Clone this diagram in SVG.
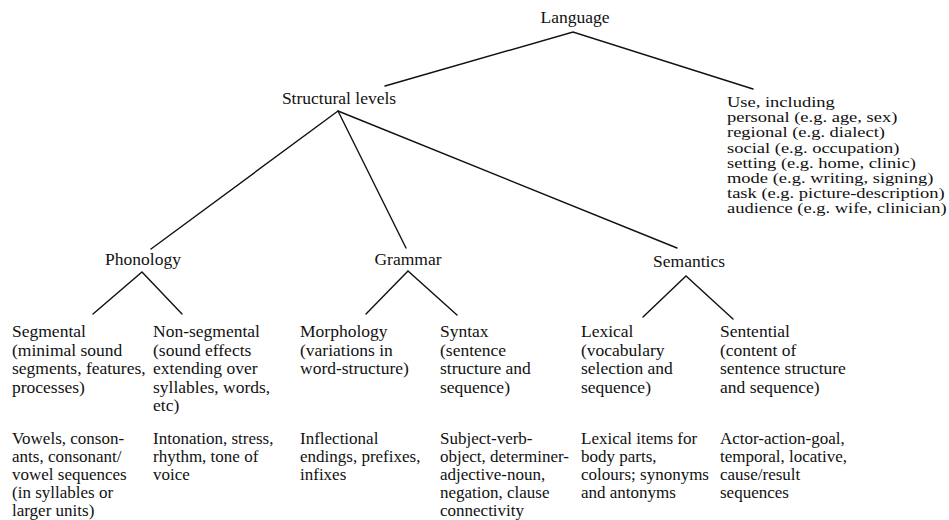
<svg xmlns="http://www.w3.org/2000/svg" width="949" height="520" viewBox="0 0 949 520">
<style>
text{font-family:"Liberation Serif","Times New Roman",serif;font-size:17.5px;fill:#111}
.use text{font-size:13.6px}
.ex text{font-size:17px}
.edge{stroke:#111;stroke-width:1.4;fill:none;stroke-linecap:round}
</style>
<rect width="949" height="520" fill="#fff"/>
<g id="connectors">
<path class="edge" d="M385,86 L573,32 L753,89"/>
<path class="edge" d="M151,249 L338,111 L406,248"/>
<path class="edge" d="M338,111 L677,248"/>
<path class="edge" d="M93,314 L142,272 L182,314"/>
<path class="edge" d="M366,314 L408,271 L457,315"/>
<path class="edge" d="M643,317 L686,276 L733,319"/>
</g>
<g id="language"><text x="575" y="23" text-anchor="middle">Language</text></g>
<g id="structural"><text x="339" y="104" text-anchor="middle">Structural levels</text></g>
<g id="use" class="use" transform="translate(727,0) scale(1.36,1)">
<text x="0" y="107">Use, including</text>
<text x="0" y="122.2">personal (e.g. age, sex)</text>
<text x="0" y="137.4">regional (e.g. dialect)</text>
<text x="0" y="152.6">social (e.g. occupation)</text>
<text x="0" y="167.8">setting (e.g. home, clinic)</text>
<text x="0" y="183">mode (e.g. writing, signing)</text>
<text x="0" y="198.2">task (e.g. picture-description)</text>
<text x="0" y="213.4">audience (e.g. wife, clinician)</text>
</g>
<g id="phonology"><text x="143" y="265" text-anchor="middle">Phonology</text></g>
<g id="grammar"><text x="408" y="265" text-anchor="middle">Grammar</text></g>
<g id="semantics"><text x="689" y="267" text-anchor="middle">Semantics</text></g>
<g id="segmental">
<text x="12" y="337">Segmental</text>
<text x="12" y="355.5">(minimal sound</text>
<text x="12" y="374">segments, features,</text>
<text x="12" y="392.5">processes)</text>
</g>
<g id="nonsegmental">
<text x="153" y="337">Non-segmental</text>
<text x="153" y="355.5">(sound effects</text>
<text x="153" y="374">extending over</text>
<text x="153" y="392.5">syllables, words,</text>
<text x="153" y="411">etc)</text>
</g>
<g id="morphology">
<text x="300" y="337">Morphology</text>
<text x="300" y="355.5">(variations in</text>
<text x="300" y="374">word-structure)</text>
</g>
<g id="syntax">
<text x="440" y="337">Syntax</text>
<text x="440" y="355.5">(sentence</text>
<text x="440" y="374">structure and</text>
<text x="440" y="392.5">sequence)</text>
</g>
<g id="lexical">
<text x="581" y="337">Lexical</text>
<text x="581" y="355.5">(vocabulary</text>
<text x="581" y="374">selection and</text>
<text x="581" y="392.5">sequence)</text>
</g>
<g id="sentential">
<text x="720" y="337">Sentential</text>
<text x="720" y="355.5">(content of</text>
<text x="720" y="374">sentence structure</text>
<text x="720" y="392.5">and sequence)</text>
</g>
<g id="seg-examples" class="ex">
<text x="12" y="444">Vowels, conson-</text>
<text x="12" y="462">ants, consonant/</text>
<text x="12" y="480">vowel sequences</text>
<text x="12" y="498">(in syllables or</text>
<text x="12" y="516">larger units)</text>
</g>
<g id="nonseg-examples" class="ex">
<text x="153" y="444">Intonation, stress,</text>
<text x="153" y="462">rhythm, tone of</text>
<text x="153" y="480">voice</text>
</g>
<g id="morph-examples" class="ex">
<text x="300" y="444">Inflectional</text>
<text x="300" y="462">endings, prefixes,</text>
<text x="300" y="480">infixes</text>
</g>
<g id="syntax-examples" class="ex">
<text x="440" y="444">Subject-verb-</text>
<text x="440" y="462">object, determiner-</text>
<text x="440" y="480">adjective-noun,</text>
<text x="440" y="498">negation, clause</text>
<text x="440" y="516">connectivity</text>
</g>
<g id="lexical-examples" class="ex">
<text x="581" y="444">Lexical items for</text>
<text x="581" y="462">body parts,</text>
<text x="581" y="480">colours; synonyms</text>
<text x="581" y="498">and antonyms</text>
</g>
<g id="sentential-examples" class="ex">
<text x="720" y="444">Actor-action-goal,</text>
<text x="720" y="462">temporal, locative,</text>
<text x="720" y="480">cause/result</text>
<text x="720" y="498">sequences</text>
</g>
</svg>
